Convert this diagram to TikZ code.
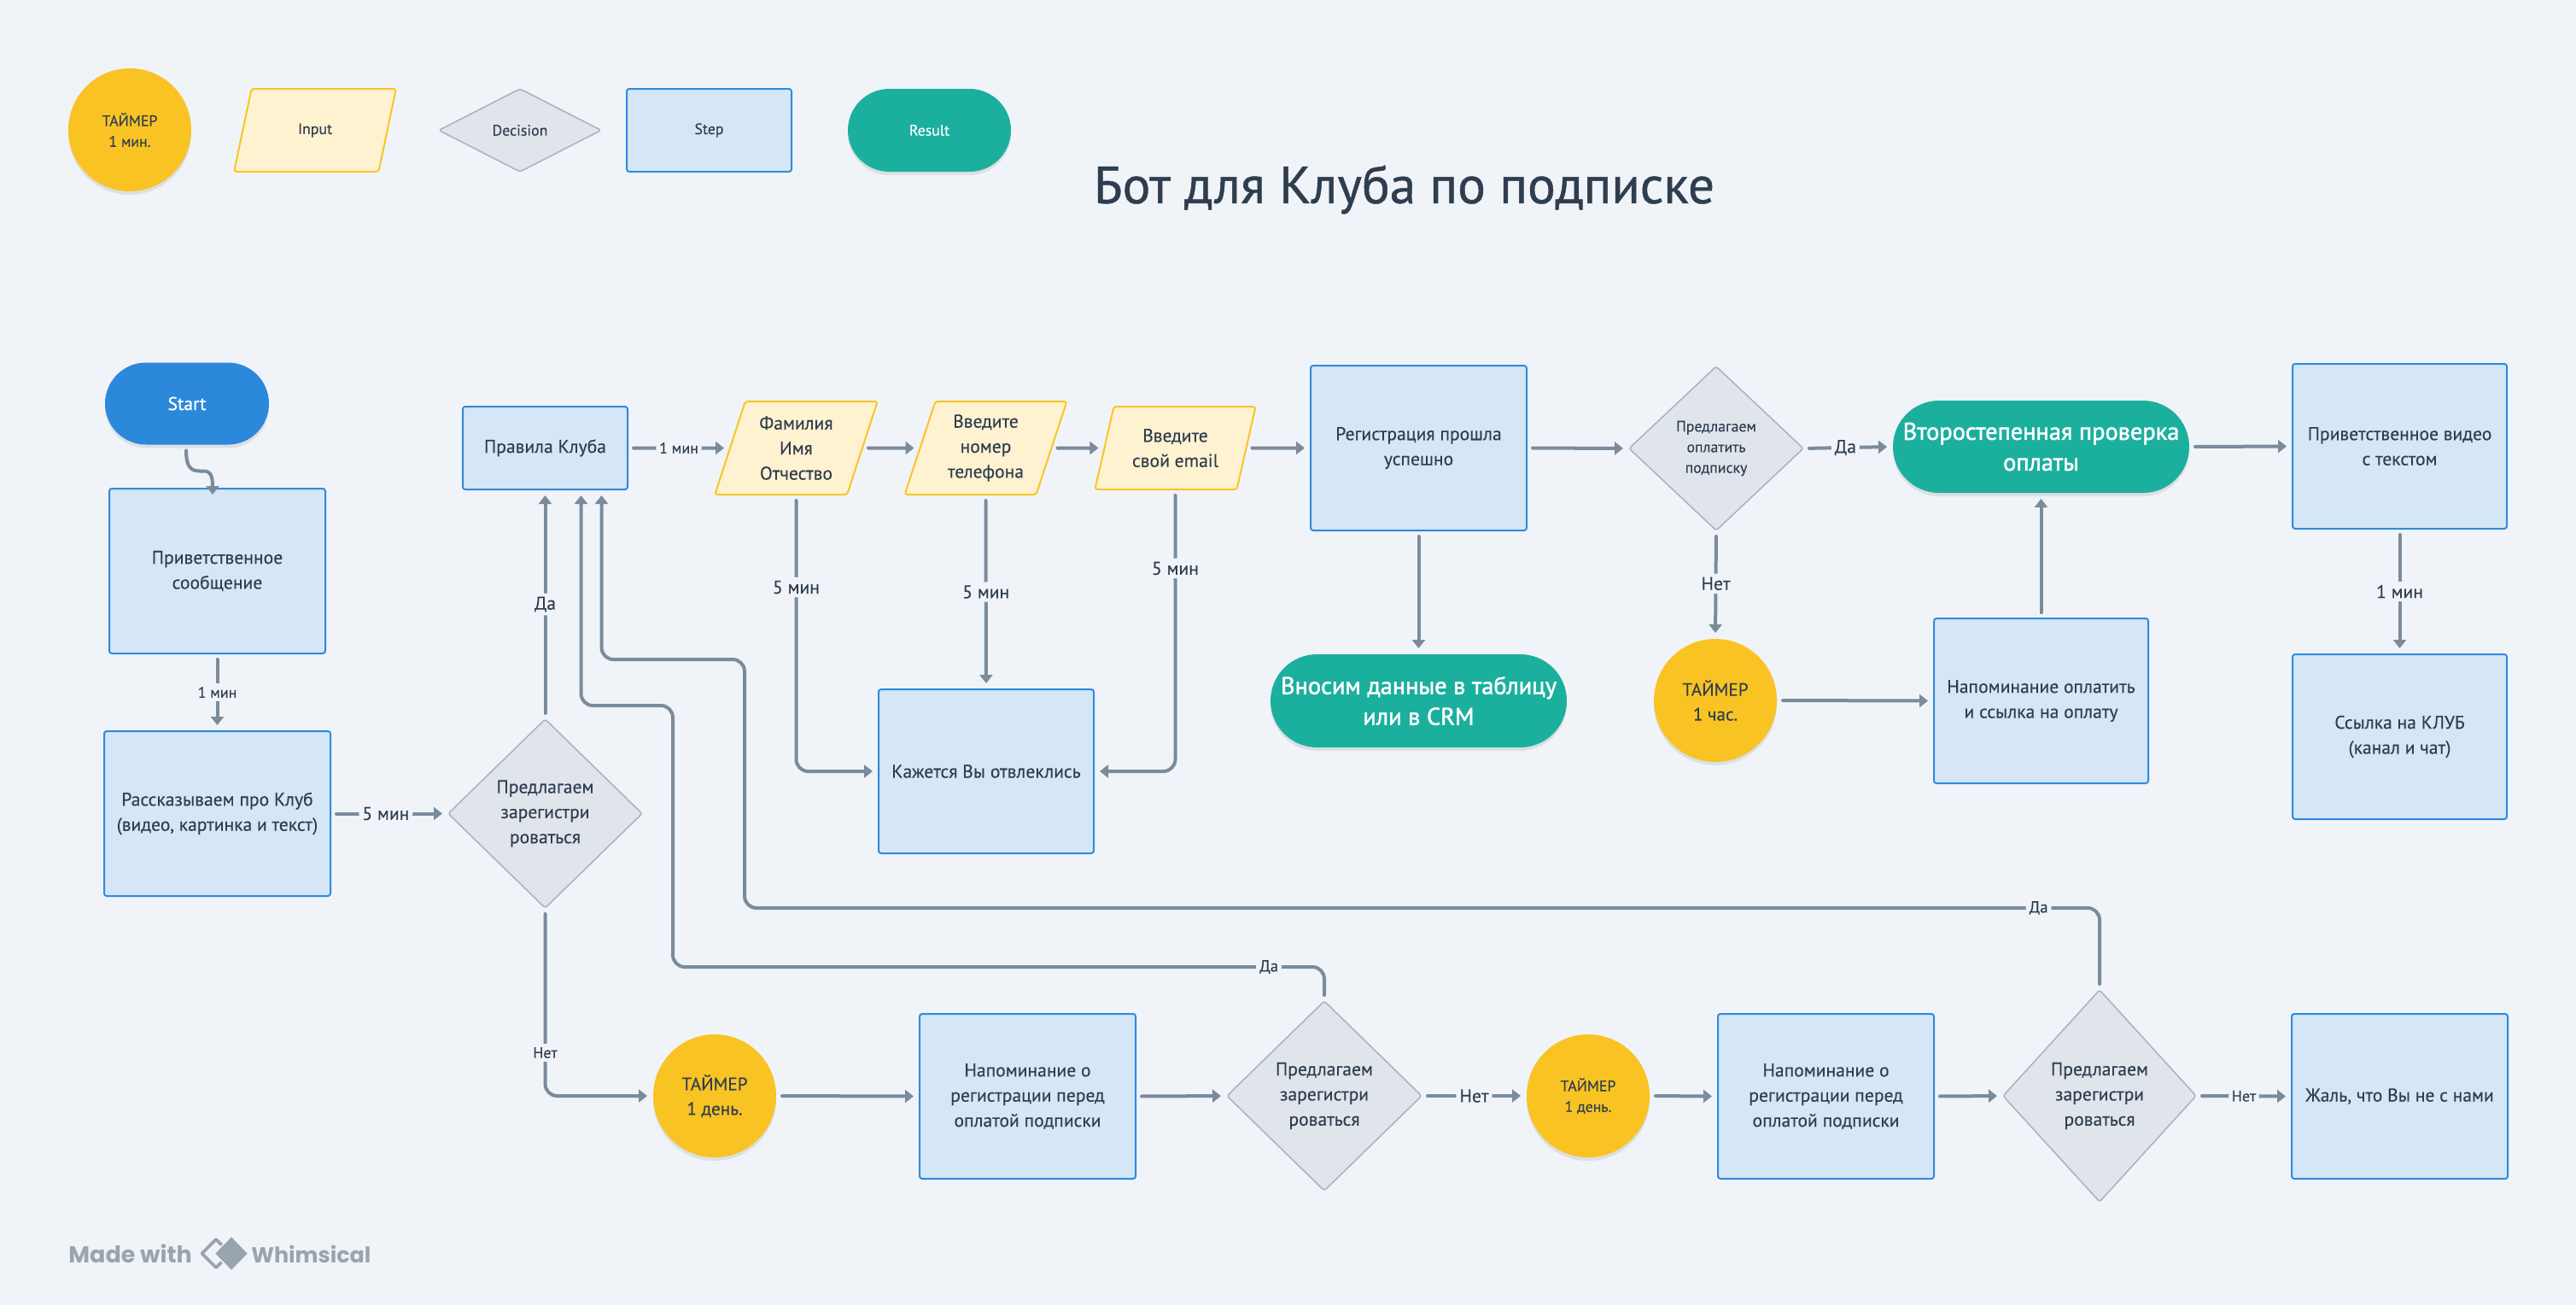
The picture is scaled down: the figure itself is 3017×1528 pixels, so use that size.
\documentclass[tikz,border=0pt]{standalone}
\usepackage{fontspec}
\setmainfont[FakeBold=0.15]{PT Sans}
\newfontfamily\medfont[FakeBold=0.8]{PT Sans}
\newfontfamily\resfont[FakeBold=1.6]{PT Sans}
\newfontfamily\wmfont{Poppins}
\usetikzlibrary{arrows.meta,shapes.geometric,shapes.misc,shadows,calc}
\definecolor{bgc}{HTML}{F0F4F8}
\definecolor{stepfill}{HTML}{D5E6F6}
\definecolor{stepline}{HTML}{2F8BDE}
\definecolor{inputfill}{HTML}{FFF2D1}
\definecolor{inputline}{HTML}{F9C524}
\definecolor{decfill}{HTML}{E0E5EC}
\definecolor{decline}{HTML}{A8B5C2}
\definecolor{timerfill}{HTML}{F9C324}
\definecolor{resfill}{HTML}{1BB09D}
\definecolor{startfill}{HTML}{2C88DB}
\definecolor{conn}{HTML}{7A8B9C}
\definecolor{inkc}{HTML}{2F3E4E}
\definecolor{wmc}{HTML}{98A4AE}
\newcommand{\fsl}[2]{\fontsize{#1}{#2}\selectfont}
\newcommand{\fs}[1]{\pgfmathsetmacro\myleading{#1*1.36}\fontsize{#1}{\myleading}\selectfont}
\tikzset{
  x=0.5pt,y=-0.5pt,
  softshadow/.style={drop shadow={shadow xshift=0pt,shadow yshift=-2pt,opacity=.14,fill=black!60}},
  shape base/.style={align=center,inner sep=0pt,outer sep=0pt,text=inkc,font=\fs{10.8}},
  stepbox/.style 2 args={shape base,rectangle,rounded corners=1.5pt,draw=stepline,line width=1pt,fill=stepfill,minimum width=#1*0.5pt,minimum height=#2*0.5pt},
  inputbox/.style 2 args={shape base,trapezium,trapezium stretches=true,trapezium left angle=71,trapezium right angle=109,rounded corners=1.5pt,draw=inputline,line width=1pt,fill=inputfill,minimum width=#1*0.5pt,minimum height=#2*0.5pt},
  decbox/.style 2 args={shape base,diamond,rounded corners=1.5pt,draw=decline,line width=.8pt,fill=decfill,minimum width=#1*0.5pt,minimum height=#2*0.5pt},
  timerbox/.style={shape base,circle,fill=timerfill,minimum size=#1*0.5pt,softshadow},
  resbox/.style 2 args={shape base,rounded rectangle,fill=resfill,text=white,minimum width=#1*0.5pt,minimum height=#2*0.5pt,softshadow},
  startbox/.style 2 args={shape base,rounded rectangle,fill=startfill,text=white,minimum width=#1*0.5pt,minimum height=#2*0.5pt,softshadow},
  link/.style={draw=conn,line width=2pt,line cap=round,shorten <=3.5pt,shorten >=3.5pt,-{Triangle[length=5pt,width=7.5pt]},rounded corners=7pt},
  lab/.style={fill=bgc,text=inkc,font=\fs{#1},inner sep=2pt,outer sep=0pt},
  lab/.default=10.8,
}
\begin{document}
\begin{tikzpicture}
\useasboundingbox (0,0) rectangle (3017,1528);
\fill[bgc] (0,0) rectangle (3017,1528);
% legend
\node[timerbox=144,font=\fs{8.9}] (lgtimer) at (152,152) {ТАЙМЕР\\1 мин.};
\node[inputbox={190}{97},font=\fs{8.9}] (lginput) at (369,152.5) {Input};
\node[decbox={190}{97},font=\fs{8.9}] (lgdec) at (609,152.5) {Decision};
\node[stepbox={193}{97},font=\fs{8.9}] (lgstep) at (830.5,152.5) {Step};
\node[resbox={191}{97},font=\fs{8.9}] (lgres) at (1088.5,152.5) {Result};
% title
\node[text=inkc,font=\medfont\fs{30.6},inner sep=0pt] (title) at (1644.5,222) {Бот для Клуба по подписке};
% nodes
\node[startbox={192}{96},font=\medfont\fs{10.8}] (start) at (219,472.5) {Start};
\node[stepbox={253}{193}] (hello) at (254.5,668.5) {Приветственное\\сообщение};
\node[stepbox={265}{193}] (story) at (254.5,952.5) {Рассказываем про Клуб\\(видео, картинка и текст)};
\node[decbox={227}{221}] (d1) at (638.5,952.5) {Предлагаем\\зарегистри\\роваться};
\node[stepbox={193}{97}] (rules) at (638.5,524.5) {Правила Клуба};
\node[inputbox={191}{109}] (in1) at (932.5,524.5) {Фамилия\\Имя\\Отчество};
\node[inputbox={191}{109}] (in2) at (1154.5,524.5) {Введите\\номер\\телефона};
\node[inputbox={189}{97}] (in3) at (1376.5,524.5) {Введите\\свой email};
\node[stepbox={252}{192}] (kaz) at (1155,903) {Кажется Вы отвлеклись};
\node[stepbox={253}{193}] (reg) at (1661.5,524.5) {Регистрация прошла\\успешно};
\node[resbox={347}{109},font=\resfont\fsl{14.2}{18}] (crm) at (1661.5,820.5) {Вносим данные в таблицу\\или в CRM};
\node[decbox={204}{192},font=\fs{8.9}] (d2) at (2010,525) {Предлагаем\\оплатить\\подписку};
\node[timerbox=144,font=\fs{10.6}] (t0) at (2009,820) {ТАЙМЕР\\1 час.};
\node[stepbox={251}{193}] (rem) at (2390.5,820.5) {Напоминание оплатить\\и ссылка на оплату};
\node[resbox={347}{108},font=\resfont\fsl{14.2}{18}] (check) at (2390.5,523) {Второстепенная проверка\\оплаты};
\node[stepbox={251}{193}] (video) at (2810.5,522.5) {Приветственное видео\\с текстом};
\node[stepbox={251}{193}] (club) at (2810.5,862.5) {Ссылка на КЛУБ\\(канал и чат)};
\node[timerbox=144,font=\fs{10.6}] (t1) at (837,1283) {ТАЙМЕР\\1 день.};
\node[stepbox={253}{193}] (rem1) at (1203.5,1283.5) {Напоминание о\\регистрации перед\\оплатой подписки};
\node[decbox={228}{222}] (d3) at (1551,1283) {Предлагаем\\зарегистри\\роваться};
\node[timerbox=144,font=\fs{8.9}] (t2) at (1860,1283) {ТАЙМЕР\\1 день.};
\node[stepbox={253}{193}] (rem2) at (2138.5,1283.5) {Напоминание о\\регистрации перед\\оплатой подписки};
\node[decbox={226}{248}] (d4) at (2459,1283) {Предлагаем\\зарегистри\\роваться};
\node[stepbox={253}{193}] (sorry) at (2810.5,1283.5) {Жаль, что Вы не с нами};
% waypoints
\coordinate (s1) at (218,520.5);
\coordinate (s2) at (249,572);
\coordinate (a1) at (1551,1132);
\coordinate (a2) at (788,1132);
\coordinate (a3) at (788,826);
\coordinate (a4) at (680.5,826);
\coordinate (b1) at (2459,1063);
\coordinate (b2) at (872,1063);
\coordinate (b3) at (872,772);
\coordinate (b4) at (704.5,772);
% connectors
\draw[draw=conn,line width=2pt,line cap=round,-{Triangle[length=5pt,width=7.5pt]}]
  ($(s1)+(0,7)$) .. controls ($(s1)+(0,32)$) and ($(s1)+(10,31)$) .. ($(s1)+(20,31)$) .. controls ($(s2)+(-2,-21)$) and ($(s2)+(0,-14)$) .. ($(s2)+(0,7)$);
\draw[link] (hello.south) -- node[lab=9,pos=.5]{1 мин} (story.north);
\draw[link] (story.east) -- node[lab,pos=.47]{5 мин} (d1.west);
\draw[link] (d1.north) -- node[lab,pos=.5]{Да} (rules.south);
\draw[link] (rules.east) -- node[lab=9,pos=.5]{1 мин} (in1.west);
\draw[link] (in1.east) -- (in2.west);
\draw[link] (in2.east) -- (in3.west);
\draw[link] (in3.east) -- (reg.west);
\draw[link] (in1.south) -- node[lab,pos=.335]{5 мин} (in1.south |- kaz.west) -- (kaz.west);
\draw[link] (in2.south) -- node[lab,pos=.5]{5 мин} (kaz.north);
\draw[link] (in3.south) -- node[lab,pos=.28]{5 мин} (in3.south |- kaz.east) -- (kaz.east);
\draw[link] (reg.east) -- (d2.west);
\draw[link] (reg.south) -- (crm.north);
\draw[link] (d2.east) -- node[lab,pos=.47]{Да} (check.west);
\draw[link] (d2.south) -- node[lab,pos=.49]{Нет} (t0.north);
\draw[link] (t0.east) -- (rem.west);
\draw[link] (rem.north) -- (check.south);
\draw[link] (check.east) -- (video.west);
\draw[link] (video.south) -- node[lab,pos=.5]{1 мин} (club.north);
\draw[link] (d1.south) -- node[lab=9,pos=.77]{Нет} (d1.south |- t1.west) -- (t1.west);
\draw[link] (t1.east) -- (rem1.west);
\draw[link] (rem1.east) -- (d3.west);
\draw[link] (d3.east) -- node[lab,pos=.5]{Нет} (t2.west);
\draw[link] (t2.east) -- (rem2.west);
\draw[link] (rem2.east) -- (d4.west);
\draw[link] (d4.east) -- node[lab=9,pos=.5]{Нет} (sorry.west);
\draw[link] (d3.north) -- (a1) -- node[lab=9.4,pos=.085]{Да} (a2) -- (a3) -- (a4) -- ([xshift=21pt]rules.south);
\draw[link] (d4.north) -- (b1) -- node[lab=9.4,pos=.045]{Да} (b2) -- (b3) -- (b4) -- ([xshift=33pt]rules.south);
% footer
\node[text=wmc,font=\wmfont\bfseries\fs{13.5},anchor=base west,inner sep=0pt] (made) at (80,1478) {Made with};
\node[text=wmc,font=\wmfont\bfseries\fs{12.7},anchor=base west,inner sep=0pt] (whim) at (294,1478) {Whimsical};
\draw[wmc,line width=1.9pt,line join=round] (253,1451) -- (270,1467.5) -- (253,1484) -- (236.5,1467.5) -- cycle;
\draw[bgc,fill=wmc,line width=.8pt,line join=round] (271,1447) -- (291,1467.5) -- (271,1488) -- (251,1467.5) -- cycle;
\end{tikzpicture}
\end{document}
